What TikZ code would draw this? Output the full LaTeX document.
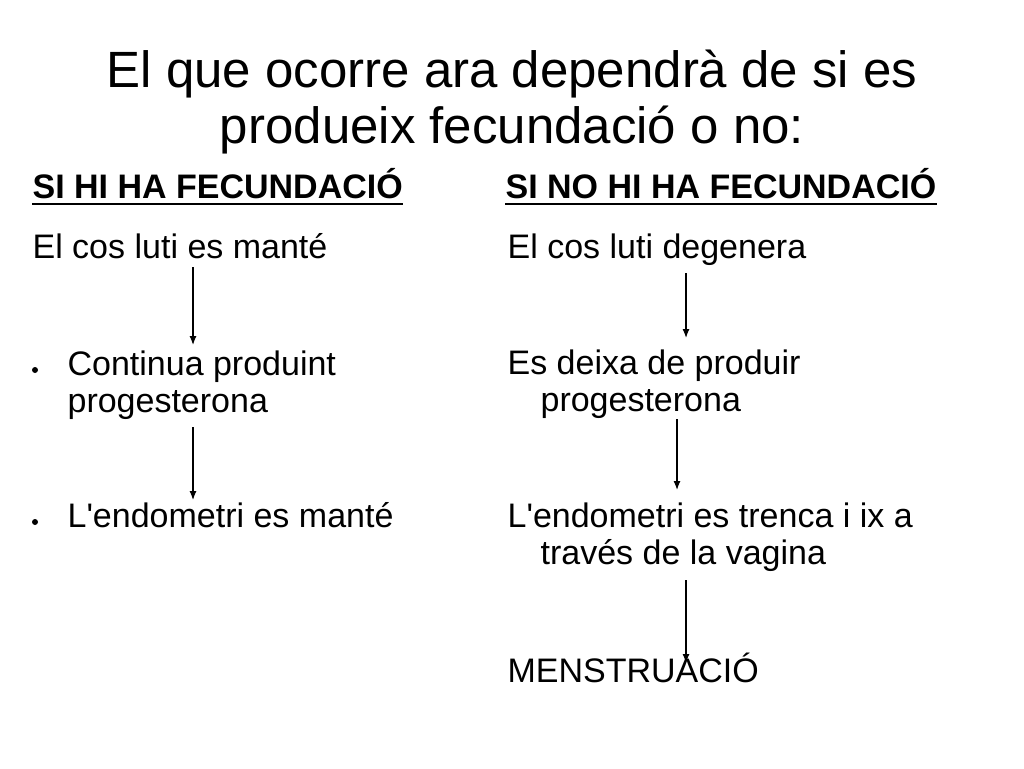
\documentclass[tikz,border=0pt]{standalone}
\usepackage{fontspec}
\setmainfont{Liberation Sans}
\usepackage{tikz}
\usetikzlibrary{positioning}
\usetikzlibrary{arrows.meta}
\tikzset{every picture/.style={line width=1.2pt}}
\tikzset{txt/.style={anchor=base west,inner sep=0pt,align=left,font=\fontsize{34}{37}\selectfont}}
\tikzset{hd/.style={txt,font=\fontsize{34}{37}\selectfont\bfseries}}
\tikzset{dot/.style={circle,fill,inner sep=0pt,minimum size=6pt}}
\tikzset{arr/.style={-{Latex[length=9pt,width=7pt]}}}

\begin{document}
\begin{tikzpicture}[x=1pt,y=-1pt]
\useasboundingbox (0,0) rectangle (1024,768);
\node (title) [anchor=base,inner sep=0pt,align=center,font=\fontsize{51}{56}\selectfont] at (512,143) {El que ocorre ara dependrà de si es\\produeix fecundació o no:};

\node (h1) [hd] at (32,198) {SI HI HA FECUNDACIÓ};
\node (h2) [hd] at (505,198) {SI NO HI HA FECUNDACIÓ};
\draw[line width=2.5pt] ([yshift=-6pt]h1.base west) -- ([yshift=-6pt]h1.base east);
\draw[line width=2.5pt] ([yshift=-6pt]h2.base west) -- ([yshift=-6pt]h2.base east);

\node (l1) [txt] at (32,258) {El cos luti es manté};
\node (l2) [txt] at (67,412) {Continua produint\\progesterona};
\node (l3) [txt] at (67,527) {L\textquotesingle endometri es manté};
\node (b2) [dot] at (35,370) {};
\node (b3) [dot] at (35,522) {};

\node (r1) [txt] at (507,258) {El cos luti degenera};
\node (r2) [txt] at (507,411) {Es deixa de produir\\\hspace*{33pt}progesterona};
\node (r3) [txt] at (507,564) {L\textquotesingle endometri es trenca i ix a\\\hspace*{33pt}través de la vagina};
\node (r4) [txt] at (507,682) {MENSTRUACIÓ};

\coordinate (la1) at (193,267);
\coordinate (lb1) at (193,345);
\coordinate (la2) at (193,427);
\coordinate (lb2) at (193,500);
\coordinate (ra1) at (686,273);
\coordinate (rb1) at (686,338);
\coordinate (ra2) at (677,419);
\coordinate (rb2) at (677,490);
\coordinate (ra3) at (686,580);
\coordinate (rb3) at (686,663);

\draw[arr] (la1) -- (lb1);
\draw[arr] (la2) -- (lb2);
\draw[arr] (ra1) -- (rb1);
\draw[arr] (ra2) -- (rb2);
\draw[arr] (ra3) -- (rb3);
\end{tikzpicture}
\end{document}
